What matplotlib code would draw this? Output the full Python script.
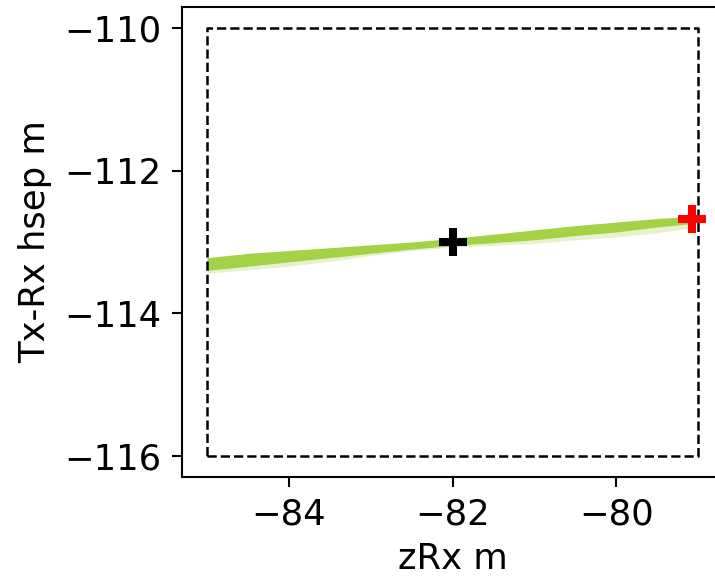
import matplotlib
matplotlib.use("Agg")
import matplotlib.pyplot as plt

# Band of accepted samples (centre line and half-thickness)
band_x = [-85.0, -84.5, -84.0, -83.5, -83.0, -82.5, -82.0, -81.5, -81.0, -80.5, -80.0, -79.5, -79.07]
band_y = [-113.31, -113.25, -113.20, -113.15, -113.10, -113.05, -113.00, -112.95, -112.90, -112.84, -112.79, -112.73, -112.69]
band_half = [0.09, 0.09, 0.08, 0.07, 0.06, 0.05, 0.05, 0.06, 0.07, 0.07, 0.07, 0.06, 0.05]
fringe_extra = [0.04, 0.05, 0.06, 0.05, 0.03, 0.02, 0.02, 0.04, 0.05, 0.06, 0.07, 0.08, 0.06]

# Prior box
box_x = [-85, -79, -79, -85, -85]
box_y = [-116, -116, -110, -110, -116]

# Markers
true_pt = (-82.0, -113.0)
best_pt = (-79.07, -112.68)

xticks = [-84, -82, -80]
yticks = [-116, -114, -112, -110]

fig = plt.figure(figsize=(7.15, 5.79), dpi=100)
ax = fig.add_axes([0.2552, 0.1762, 0.7554, 0.8117])

upper = [y + h for y, h in zip(band_y, band_half)]
lower = [y - h for y, h in zip(band_y, band_half)]
lower2 = [l - f for l, f in zip(lower, fringe_extra)]
ax.fill_between(band_x, lower2, lower, color="yellowgreen", alpha=0.25, lw=0)
ax.fill_between(band_x, lower, upper, color="yellowgreen", alpha=0.9, lw=0)

ax.plot(box_x, box_y, "k--", lw=1.8)
ax.plot(*true_pt, marker="+", color="black", ms=19.5, mew=5.8, ls="none")
ax.plot(*best_pt, marker="+", color="red", ms=19.5, mew=5.8, ls="none")

ax.set_xlim(-85.3, -78.7)
ax.set_ylim(-116.3, -109.7)
ax.set_xticks(xticks)
ax.set_yticks(yticks)
ax.tick_params(labelsize=25.5, width=1.5, length=7, pad=8)
for s in ax.spines.values():
    s.set_linewidth(1.5)
ax.set_xlabel("zRx m", fontsize=25.5, labelpad=7)
ax.set_ylabel("Tx-Rx hsep m", fontsize=25.5, labelpad=9)

fig.savefig("out.png", dpi=100)
